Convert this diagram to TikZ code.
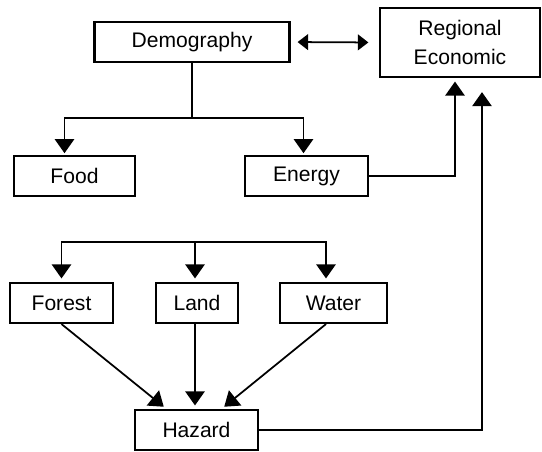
\documentclass[tikz,border=0pt]{standalone}
\usepackage{fontspec}
\setmainfont{Liberation Sans}
\usetikzlibrary{arrows.meta}

\tikzset{
    box/.style={draw, line width=1.2pt, minimum height=0.8cm, inner sep=2pt,
        font=\fontsize{12}{17}\selectfont, align=center},
    arr/.style={line width=1pt, -{Triangle[width=11pt,length=8pt]}},
    link/.style={line width=1pt}
}

\begin{document}
\begin{tikzpicture}
    \useasboundingbox (0,0) rectangle (10.84,-9.02);

    \node[box, minimum width=3.9cm] (demo) at (3.84,-0.84) {Demography};
    \node[box, minimum width=3.2cm, minimum height=1.38cm] (econ) at (9.2,-0.85) {Regional\\Economic};

    \node[box, minimum width=2.42cm] (food) at (1.49,-3.52) {Food};
    \node[box, minimum width=2.46cm] (energy) at (6.13,-3.52) {Energy};

    \node[box, minimum width=2.06cm] (forest) at (1.23,-6.06) {Forest};
    \node[box, minimum width=1.64cm] (land) at (3.94,-6.06) {Land};
    \node[box, minimum width=2.14cm] (water) at (6.67,-6.06) {Water};

    \node[box, minimum width=2.46cm] (hazard) at (3.93,-8.6) {Hazard};

    % demography branches
    \draw[link] (demo.south) -- ++(0,-1.1) coordinate (split);
    \draw[arr, shorten >=1pt] (split) -| ([xshift=-0.2cm]food.north);
    \draw[arr, shorten >=1pt] (split) -| ([xshift=-0.06cm]energy.north);
    \draw[line width=1pt, {Triangle[width=9pt,length=6pt]}-{Triangle[width=9pt,length=6pt]},
        shorten <=4pt, shorten >=6pt] (demo.east) -- (econ.west);

    % to regional economic
    \draw[arr, shorten >=2pt] (energy.east) -| ([xshift=-0.1cm]econ.south);
    \draw[arr, shorten >=8pt] (hazard.east) -| ([xshift=0.44cm]econ.south);

    % resources
    \coordinate (bus) at (3.9,-4.84);
    \draw[arr, shorten >=2pt] (bus) -| (forest.north);
    \draw[arr, shorten >=2pt] (bus) -| ([xshift=-0.15cm]water.north);
    \draw[arr, shorten >=2pt] (bus) -- (bus |- land.north);

    \draw[arr, shorten >=2pt] (forest.south) -- ([xshift=-0.6cm]hazard.north);
    \draw[arr, shorten >=2pt] (bus |- land.south) -- (bus |- hazard.north);
    \draw[arr, shorten >=2pt] ([xshift=-0.15cm]water.south) -- ([xshift=0.5cm]hazard.north);
\end{tikzpicture}
\end{document}
